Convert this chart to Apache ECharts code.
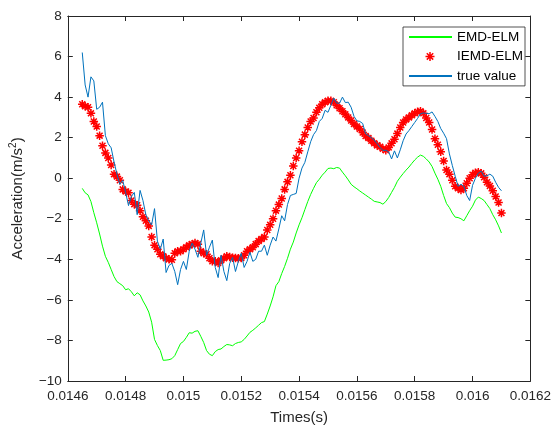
<!DOCTYPE html>
<html><head><meta charset="utf-8">
<script src="https://cdn.jsdelivr.net/npm/echarts@6/dist/echarts.min.js"></script>
<style>html,body{margin:0;padding:0;background:#fff}#c{width:554px;height:430px}</style>
</head><body><div id="c"></div>
<script>
// ---- data ----
const times = [
0.01465,0.01466,0.01467,0.01468,0.01469,0.01470,0.01471,0.01472,0.01473,0.01474,
0.01475,0.01476,0.01477,0.01478,0.01479,0.01480,0.01481,0.01482,0.01483,0.01484,
0.01485,0.01486,0.01487,0.01488,0.01489,0.01490,0.01491,0.01492,0.01493,0.01494,
0.01495,0.01496,0.01497,0.01498,0.01499,0.01500,0.01501,0.01502,0.01503,0.01504,
0.01505,0.01506,0.01507,0.01508,0.01509,0.01510,0.01511,0.01512,0.01513,0.01514,
0.01515,0.01516,0.01517,0.01518,0.01519,0.01520,0.01521,0.01522,0.01523,0.01524,
0.01525,0.01526,0.01527,0.01528,0.01529,0.01530,0.01531,0.01532,0.01533,0.01534,
0.01535,0.01536,0.01537,0.01538,0.01539,0.01540,0.01541,0.01542,0.01543,0.01544,
0.01545,0.01546,0.01547,0.01548,0.01549,0.01550,0.01551,0.01552,0.01553,0.01554,
0.01555,0.01556,0.01557,0.01558,0.01559,0.01560,0.01561,0.01562,0.01563,0.01564,
0.01565,0.01566,0.01567,0.01568,0.01569,0.01570,0.01571,0.01572,0.01573,0.01574,
0.01575,0.01576,0.01577,0.01578,0.01579,0.01580,0.01581,0.01582,0.01583,0.01584,
0.01585,0.01586,0.01587,0.01588,0.01589,0.01590,0.01591,0.01592,0.01593,0.01594,
0.01595,0.01596,0.01597,0.01598,0.01599,0.01600,0.01601,0.01602,0.01603,0.01604,
0.01605,0.01606,0.01607,0.01608,0.01609,0.01610
];
const emdElm = [
-0.5,-0.72,-0.82,-1.15,-1.7,-2.2,-2.75,-3.35,-3.85,-4.15,
-4.5,-4.85,-5.1,-5.2,-5.3,-5.5,-5.45,-5.6,-5.8,-5.65,
-5.75,-6.05,-6.3,-6.6,-7.1,-7.95,-8.25,-8.5,-8.98,-8.97,
-8.95,-8.9,-8.75,-8.45,-8.15,-8.05,-7.85,-7.62,-7.64,-7.55,
-7.52,-7.8,-8.1,-8.5,-8.68,-8.75,-8.55,-8.45,-8.42,-8.3,
-8.2,-8.22,-8.26,-8.15,-8.1,-8.07,-7.95,-7.78,-7.6,-7.5,
-7.38,-7.25,-7.12,-7.07,-6.7,-6.3,-5.85,-5.3,-5.1,-4.7,
-4.35,-3.95,-3.5,-3.15,-2.7,-2.3,-1.95,-1.55,-1.15,-0.8,
-0.5,-0.22,-0.05,0.15,0.3,0.48,0.5,0.47,0.53,0.5,
0.3,0.12,-0.08,-0.3,-0.42,-0.52,-0.63,-0.73,-0.83,-0.93,
-1.03,-1.14,-1.17,-1.2,-1.28,-1.15,-0.95,-0.7,-0.45,-0.15,
0.05,0.23,0.4,0.55,0.73,0.9,1.04,1.14,1.08,0.95,
0.8,0.58,0.25,-0.05,-0.4,-0.85,-1.25,-1.45,-1.72,-1.92,
-1.94,-2.0,-2.1,-1.85,-1.6,-1.38,-1.08,-0.93,-1.0,-1.1,
-1.3,-1.5,-1.8,-2.05,-2.35,-2.7
];
const iemdElm = [
3.65,3.55,3.5,3.2,2.8,2.55,2.1,1.6,1.25,1.0,
0.65,0.2,0.08,-0.1,-0.55,-0.65,-0.72,-1.1,-1.28,-1.33,
-1.6,-1.9,-2.1,-2.35,-2.9,-3.3,-3.5,-3.75,-3.85,-3.95,
-4.0,-4.02,-3.7,-3.6,-3.6,-3.5,-3.4,-3.3,-3.25,-3.2,
-3.25,-3.6,-3.7,-3.75,-3.95,-4.1,-4.1,-4.18,-4.05,-3.95,
-3.85,-3.88,-3.92,-3.94,-3.95,-3.94,-3.8,-3.6,-3.5,-3.41,
-3.25,-3.1,-3.0,-2.9,-2.55,-2.3,-2.0,-1.6,-1.3,-1.0,
-0.55,-0.18,0.15,0.6,1.0,1.36,1.8,2.15,2.5,2.8,
2.97,3.25,3.47,3.65,3.75,3.82,3.82,3.75,3.6,3.45,
3.3,3.15,3.0,2.85,2.68,2.55,2.43,2.25,2.08,1.98,
1.85,1.72,1.62,1.55,1.45,1.38,1.52,1.72,1.92,2.2,
2.5,2.75,2.9,3.0,3.1,3.2,3.28,3.3,3.2,2.97,
2.75,2.4,1.95,1.65,1.3,0.85,0.4,0.2,-0.1,-0.4,
-0.5,-0.58,-0.5,-0.25,0.0,0.17,0.27,0.3,0.24,0.05,
-0.2,-0.38,-0.62,-0.9,-1.2,-1.72
];
const trueValue = [
6.2,4.6,4.0,5.0,4.8,3.4,3.5,3.75,2.1,1.7,
1.5,0.8,0.2,-0.3,-0.1,-0.7,-1.35,-0.9,-0.7,-1.8,
-0.6,-1.1,-1.8,-2.1,-2.3,-1.5,-3.1,-3.5,-3.0,-4.65,
-4.3,-4.2,-4.6,-5.25,-4.5,-4.1,-4.5,-3.6,-3.2,-3.5,
-3.9,-3.2,-2.55,-3.8,-3.4,-3.05,-4.4,-4.9,-3.8,-4.6,
-5.05,-4.2,-3.9,-4.6,-4.1,-3.7,-4.4,-4.1,-3.65,-4.1,
-4.0,-3.6,-3.6,-3.3,-3.8,-3.3,-2.9,-3.1,-2.5,-1.85,
-2.1,-1.3,-0.85,-0.8,-0.75,0.0,0.5,0.78,1.3,1.8,
2.15,2.35,2.8,2.95,3.35,3.25,3.6,3.95,3.7,3.7,
4.0,3.73,3.75,3.5,3.05,2.83,2.8,2.7,2.2,2.1,
2.0,1.88,1.7,1.52,1.37,1.38,1.3,0.95,1.35,1.0,
1.4,1.85,2.18,2.35,2.55,2.75,2.95,3.18,3.22,3.2,
3.18,3.27,3.05,2.8,2.45,2.22,1.95,1.2,0.63,0.1,
-0.4,-0.3,-0.4,-0.85,-1.1,-0.35,0.0,0.25,0.35,0.1,
0.12,0.2,0.1,-0.2,-0.45,-0.62
];
const seriesNames = ['EMD-ELM', 'IEMD-ELM', 'true value'];
const xMin = 0.0146, xMax = 0.0162, xStep = 0.0002;
const yMin = -10, yMax = 8, yStep = 2;
const xTitle = 'Times(s)';
const yTitle = 'Acceleration(m/s{sup|2})';

// ---- styling ----
const font = 'Liberation Sans, Arial, Helvetica, sans-serif';
const axisColor = '#262626';
const starPath = 'path://M4,0L4,8M0,4L8,4M1.2,1.2L6.8,6.8M1.2,6.8L6.8,1.2';
const starLegend = 'path://M0,0M43,14M21,2.5L21,11.5M16.5,7L25.5,7M17.8,3.8L24.2,10.2M17.8,10.2L24.2,3.8';
const zip = (xs, ys) => xs.map((x, i) => [x, ys[i]]);
const fmtX = v => String(+v.toFixed(5));
const fmtY = v => String(Math.round(v)).replace('-', '\u2212');

function axisCommon(extra) {
  return Object.assign({
    type: 'value',
    axisLine: { show: true, onZero: false, lineStyle: { color: axisColor, width: 1 } },
    axisTick: { show: true, inside: true, length: 5, lineStyle: { color: axisColor, width: 1 } },
    splitLine: { show: false },
    axisLabel: { color: axisColor, fontSize: 13.5, fontFamily: font }
  }, extra);
}

const chart = echarts.init(document.getElementById('c'), null, { renderer: 'canvas' });
chart.setOption({
  animation: false,
  backgroundColor: '#fff',
  grid: { left: 66, right: 20, top: 16, bottom: 46, containLabel: false },
  xAxis: [
    axisCommon({ position: 'bottom', min: xMin, max: xMax, interval: xStep,
      axisLabel: { color: axisColor, fontSize: 13.5, fontFamily: font, margin: 8, formatter: fmtX },
      name: xTitle, nameLocation: 'middle', nameGap: 29,
      nameTextStyle: { color: axisColor, fontSize: 15, fontFamily: font } }),
    axisCommon({ position: 'top', min: xMin, max: xMax, interval: xStep, axisLabel: { show: false } })
  ],
  yAxis: [
    axisCommon({ position: 'left', min: yMin, max: yMax, interval: yStep,
      axisLabel: { color: axisColor, fontSize: 13.5, fontFamily: font, margin: 6, formatter: fmtY },
      name: yTitle, nameLocation: 'middle', nameGap: 33,
      nameTextStyle: { color: axisColor, fontSize: 15, fontFamily: font, lineHeight: 20,
        rich: { sup: { fontSize: 10, fontFamily: font, color: axisColor, verticalAlign: 'top', lineHeight: 12 } } } }),
    axisCommon({ position: 'right', min: yMin, max: yMax, interval: yStep, axisLabel: { show: false } })
  ],
  legend: {
    orient: 'vertical', left: 403, top: 27,
    itemWidth: 43, itemHeight: 14, itemGap: 4.7,
    padding: [3, 2, 3, 5],
    borderColor: axisColor, borderWidth: 0.8, backgroundColor: '#fff',
    textStyle: { color: '#000', fontSize: 13.5, fontFamily: font },
    data: [
      { name: seriesNames[0], itemStyle: { opacity: 0 } },
      { name: seriesNames[1], icon: starLegend, itemStyle: { borderWidth: 1.5, borderColor: '#ff0000', color: 'rgba(0,0,0,0)' } },
      { name: seriesNames[2], itemStyle: { opacity: 0 } }
    ]
  },
  series: [
    { name: seriesNames[0], type: 'line', xAxisIndex: 0, yAxisIndex: 0, symbol: 'none',
      lineStyle: { color: '#00ff00', width: 1 }, itemStyle: { color: '#00ff00' },
      data: zip(times, emdElm) },
    { name: seriesNames[1], type: 'scatter', xAxisIndex: 0, yAxisIndex: 0,
      symbol: starPath, symbolSize: 8.5,
      itemStyle: { color: 'rgba(0,0,0,0)', borderColor: '#ff0000', borderWidth: 1.5, opacity: 1 },
      data: zip(times, iemdElm) },
    { name: seriesNames[2], type: 'line', xAxisIndex: 0, yAxisIndex: 0, symbol: 'none',
      lineStyle: { color: '#0072bd', width: 1 }, itemStyle: { color: '#0072bd' },
      data: zip(times, trueValue) }
  ]
});
</script></body></html>
